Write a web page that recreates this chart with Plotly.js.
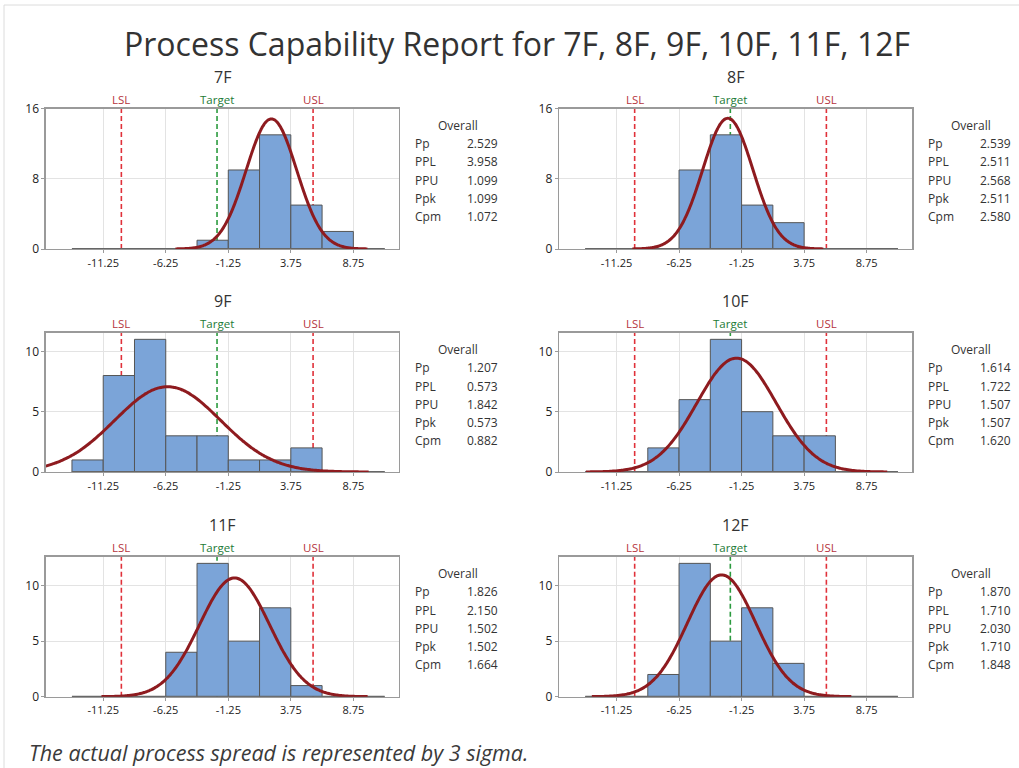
<!DOCTYPE html>
<html><head><meta charset="utf-8">
<script src="https://cdn.plot.ly/plotly-3.0.1.min.js"></script>
<style>html,body{margin:0;padding:0;background:#fff;}#chart{width:1019px;height:768px;}</style>
</head><body><div id="chart"></div>
<script>
const W = 1019, H = 768;

// ---- data ----
const panelNames = ['7F', '8F', '9F', '10F', '11F', '12F'];
const binStart = -13.75, binWidth = 2.5;
const counts7F  = [0, 0, 0, 0, 1, 9, 13, 5, 2, 0];
const counts8F  = [0, 0, 0, 9, 13, 5, 3, 0, 0, 0];
const counts9F  = [1, 8, 11, 3, 3, 1, 1, 2, 0, 0];
const counts10F = [0, 0, 2, 6, 11, 5, 3, 3, 0, 0];
const counts11F = [0, 0, 0, 4, 12, 5, 8, 1, 0, 0];
const counts12F = [0, 0, 2, 12, 5, 8, 3, 0, 0, 0];
const LSL = -9.8, USL = 5.53, TARGET = -2.15;
const fitMean  = [2.2, -2.35, -6.1, -1.65, -0.75, -2.85];
const fitSigma = [2.02, 2.01, 4.23, 3.17, 2.80, 2.73];
const statNames = ['Pp', 'PPL', 'PPU', 'Ppk', 'Cpm'];
const statPp  = ['2.529', '2.539', '1.207', '1.614', '1.826', '1.870'];
const statPPL = ['3.958', '2.511', '0.573', '1.722', '2.150', '1.710'];
const statPPU = ['1.099', '2.568', '1.842', '1.507', '1.502', '2.030'];
const statPpk = ['1.099', '2.511', '0.573', '1.507', '1.502', '1.710'];
const statCpm = ['1.072', '2.580', '0.882', '1.620', '1.664', '1.848'];
const xTickVals = [-11.25, -6.25, -1.25, 3.75, 8.75];
const xTickText = ['-11.25', '-6.25', '-1.25', '3.75', '8.75'];
const yMax = [16, 16, 11.55, 11.55, 12.6, 12.6];
const yTickVals = [[0, 8, 16], [0, 8, 16], [0, 5, 10], [0, 5, 10], [0, 5, 10], [0, 5, 10]];

const allCounts = [counts7F, counts8F, counts9F, counts10F, counts11F, counts12F];
const allStats = [statPp, statPPL, statPPU, statPpk, statCpm];

// ---- layout geometry (pixels) ----
const colX = [[45.7, 399], [559, 912.3]];
const rowY = [[108.5, 249], [332.7, 472], [556.7, 696.7]];
const xRange = [-15.85, 12.4];
const px = v => v / W;
const py = v => 1 - v / H;
const FONT = 'Open Sans, Noto Sans, sans-serif';

const traces = [];
const annotations = [];
const shapes = [];
const layout = {
  width: W, height: H, autosize: false,
  margin: {l: 0, r: 0, t: 0, b: 0},
  paper_bgcolor: '#ffffff', plot_bgcolor: 'rgba(0,0,0,0)',
  showlegend: false,
  font: {family: FONT, color: '#333'},
  annotations: annotations, shapes: shapes,
  bargap: 0
};

panelNames.forEach((name, i) => {
  const col = i % 2, row = Math.floor(i / 2);
  const [l, r] = colX[col];
  const [t, b] = rowY[row];
  const xa = i === 0 ? 'x' : 'x' + (i + 1);
  const ya = i === 0 ? 'y' : 'y' + (i + 1);
  const xKey = i === 0 ? 'xaxis' : 'xaxis' + (i + 1);
  const yKey = i === 0 ? 'yaxis' : 'yaxis' + (i + 1);

  layout[xKey] = {
    domain: [px(l), px(r)], anchor: ya, range: xRange,
    tickvals: xTickVals, ticktext: xTickText,
    showgrid: true, gridcolor: '#e3e3e3', gridwidth: 1,
    showline: true, linecolor: '#9a9a9a', linewidth: 1.3, mirror: true,
    ticks: 'outside', ticklen: 3, tickcolor: '#9a9a9a',
    tickfont: {size: 11, color: '#222', family: FONT},
    zeroline: false, fixedrange: true
  };
  layout[yKey] = {
    domain: [py(b), py(t)], anchor: xa, range: [0, yMax[i]],
    tickvals: yTickVals[i],
    showgrid: true, gridcolor: '#e3e3e3', gridwidth: 1,
    showline: true, linecolor: '#9a9a9a', linewidth: 1.3, mirror: true,
    ticks: 'outside', ticklen: 3, tickcolor: '#9a9a9a',
    tickfont: {size: 12, color: '#222', family: FONT},
    zeroline: false, fixedrange: true
  };

  const counts = allCounts[i];
  const centers = counts.map((c, k) => binStart + binWidth * (k + 0.5));
  const binEnd = binStart + binWidth * counts.length;

  // baseline for empty bins
  traces.push({
    type: 'scatter', mode: 'lines', x: [binStart, binEnd], y: [0, 0],
    xaxis: xa, yaxis: ya, line: {color: '#666', width: 2}, hoverinfo: 'skip', cliponaxis: false
  });
  traces.push({
    type: 'bar', x: centers, y: counts, width: binWidth,
    xaxis: xa, yaxis: ya,
    marker: {color: '#7BA4D8', line: {color: '#555', width: 1}}
  });

  // fitted normal curve from mean & sigma of the sample
  const N = counts.reduce((a, c) => a + c, 0);
  const mu = fitMean[i], sd = fitSigma[i];
  const x0 = Math.max(xRange[0], mu - 3.8 * sd), x1 = Math.min(xRange[1], mu + 3.8 * sd);
  const cx = [], cy = [];
  for (let k = 0; k <= 200; k++) {
    const xv = x0 + (x1 - x0) * k / 200;
    cx.push(xv);
    cy.push(N * binWidth * Math.exp(-0.5 * ((xv - mu) / sd) ** 2) / (sd * Math.sqrt(2 * Math.PI)));
  }
  traces.push({
    type: 'scatter', mode: 'lines', x: cx, y: cy, xaxis: xa, yaxis: ya,
    line: {color: '#8E1B1F', width: 3, shape: 'spline'}, hoverinfo: 'skip'
  });

  // spec lines (drawn beneath the bars)
  [[LSL, '#E0313A'], [TARGET, '#2B9A3E'], [USL, '#E0313A']].forEach(([v, c]) => {
    shapes.push({
      type: 'line', xref: xa, yref: 'paper', x0: v, x1: v, y0: py(b), y1: py(t),
      line: {color: c, width: 1.6, dash: '5px,3px'}, layer: 'below'
    });
  });

  // panel title
  annotations.push({
    xref: 'paper', yref: 'paper', x: px((l + r) / 2), y: py(t - 32),
    text: name, showarrow: false, xanchor: 'center', yanchor: 'middle',
    font: {size: 16, color: '#333', family: FONT}
  });
  // spec labels
  [['LSL', LSL, '#B5343D'], ['Target', TARGET, '#237A36'], ['USL', USL, '#B5343D']].forEach(([txt, v, c]) => {
    annotations.push({
      xref: xa, yref: 'paper', x: v, y: py(t - 9.5), text: txt, showarrow: false,
      xanchor: 'center', yanchor: 'middle', font: {size: 11.5, color: c, family: FONT}
    });
  });
  // statistics table
  annotations.push({
    xref: 'paper', yref: 'paper', x: px(r + 58.5), y: py(t + 17), text: 'Overall',
    showarrow: false, xanchor: 'center', yanchor: 'middle',
    font: {size: 12, color: '#333', family: FONT}
  });
  statNames.forEach((sn, k) => {
    const yy = py(t + 35 + 18.3 * k);
    annotations.push({
      xref: 'paper', yref: 'paper', x: px(r + 14), y: yy, text: sn, showarrow: false,
      xanchor: 'left', yanchor: 'middle', font: {size: 12, color: '#333', family: FONT}
    });
    annotations.push({
      xref: 'paper', yref: 'paper', x: px(r + 101), y: yy, text: allStats[k][i], showarrow: false,
      xanchor: 'right', yanchor: 'middle', font: {size: 12, color: '#333', family: FONT}
    });
  });
});

// main title and footnote
annotations.push({
  xref: 'paper', yref: 'paper', x: px(517), y: py(43),
  text: 'Process Capability Report for 7F, 8F, 9F, 10F, 11F, 12F', showarrow: false,
  xanchor: 'center', yanchor: 'middle', font: {size: 32, color: '#333', family: FONT}
});
annotations.push({
  xref: 'paper', yref: 'paper', x: px(27), y: py(752),
  text: '<i>The actual process spread is represented by 3 sigma.</i>', showarrow: false,
  xanchor: 'left', yanchor: 'middle', font: {size: 21.5, color: '#3a3a3a', family: FONT}
});
// light frame at top and left
shapes.push({type: 'line', xref: 'paper', yref: 'paper', x0: px(4), x1: 1, y0: py(5), y1: py(5), line: {color: '#dcdcdc', width: 1}});
shapes.push({type: 'line', xref: 'paper', yref: 'paper', x0: px(4), x1: px(4), y0: py(5), y1: 0, line: {color: '#dcdcdc', width: 1}});

Plotly.newPlot('chart', traces, layout, {staticPlot: true, displayModeBar: false});
</script>
</body></html>
